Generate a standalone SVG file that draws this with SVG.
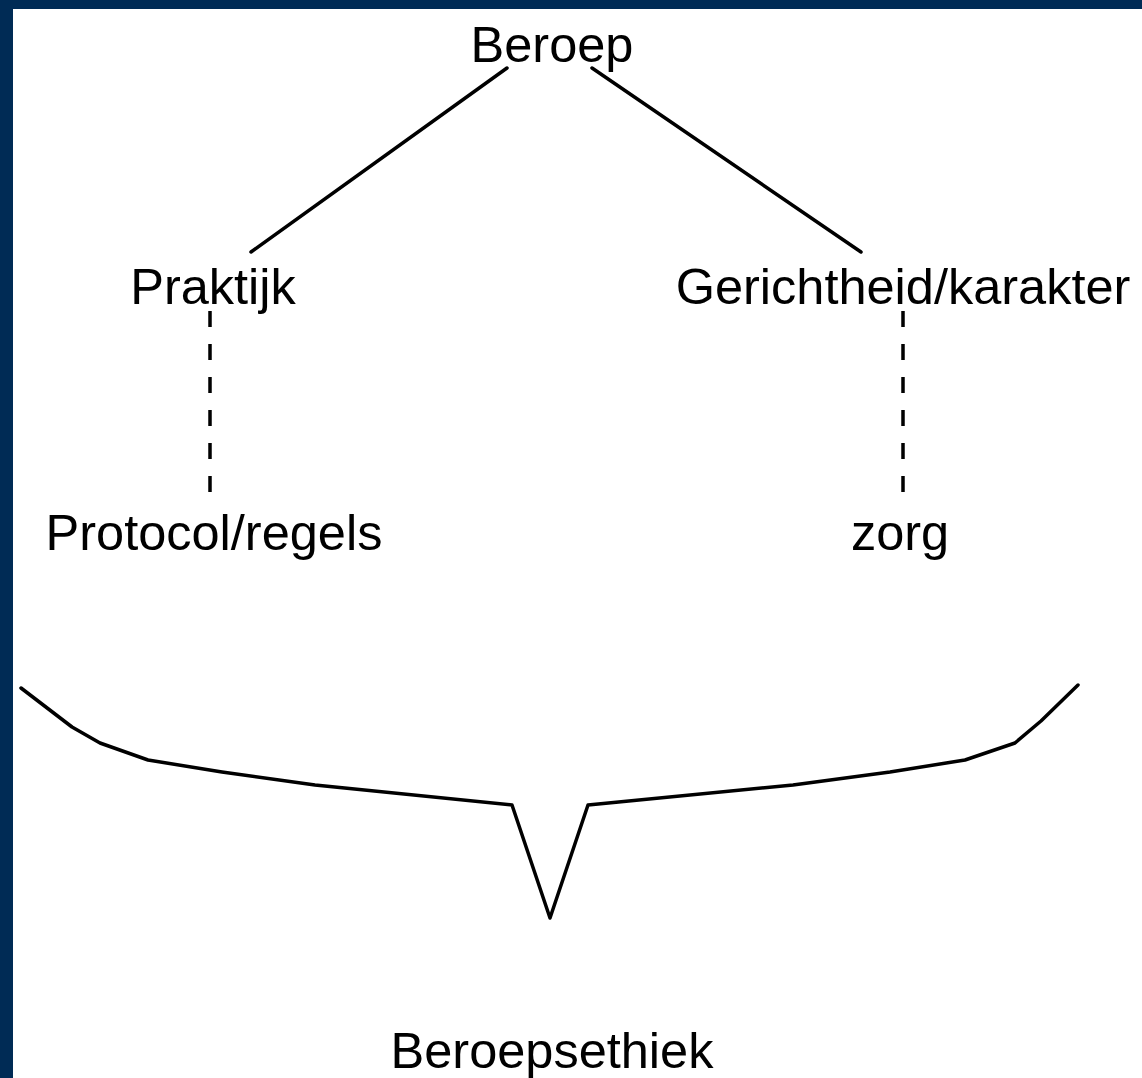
<svg xmlns="http://www.w3.org/2000/svg" width="1142" height="1078" viewBox="0 0 1142 1078">
<style>
.t{font-family:"Liberation Sans",Arial,sans-serif;font-size:50.5px;fill:#000;text-anchor:middle}
.s{stroke:#000;stroke-width:3.5;fill:none;stroke-linecap:round;stroke-linejoin:round}
.d{stroke:#000;stroke-width:3.5;fill:none;stroke-dasharray:16 17}
</style>
<rect x="0" y="0" width="1142" height="1078" fill="#fff"/>
<rect x="0" y="0" width="1142" height="9" fill="#002B55"/>
<rect x="0" y="0" width="13" height="1078" fill="#002B55"/>
<g id="connectors">
<line class="s" x1="507" y1="68" x2="251" y2="252"/>
<line class="s" x1="592" y1="68" x2="861" y2="252"/>
<line class="d" x1="210" y1="311" x2="210" y2="497"/>
<line class="d" x1="903" y1="311" x2="903" y2="497"/>
<polyline class="s" points="21,688 72,727 100,743 148,760 222,772 315,785 512,805 550,918 588,805 793,785 890,772 965,760 1015,743 1041,721 1078,685"/>
</g>
<g id="beroep"><text class="t" x="552" y="62">Beroep</text></g>
<g id="praktijk"><text class="t" x="213" y="304">Praktijk</text></g>
<g id="gerichtheid"><text class="t" x="903" y="304">Gerichtheid/karakter</text></g>
<g id="protocol"><text class="t" x="214" y="550">Protocol/regels</text></g>
<g id="zorg"><text class="t" x="900" y="550">zorg</text></g>
<g id="beroepsethiek"><text class="t" x="552" y="1068">Beroepsethiek</text></g>
</svg>
